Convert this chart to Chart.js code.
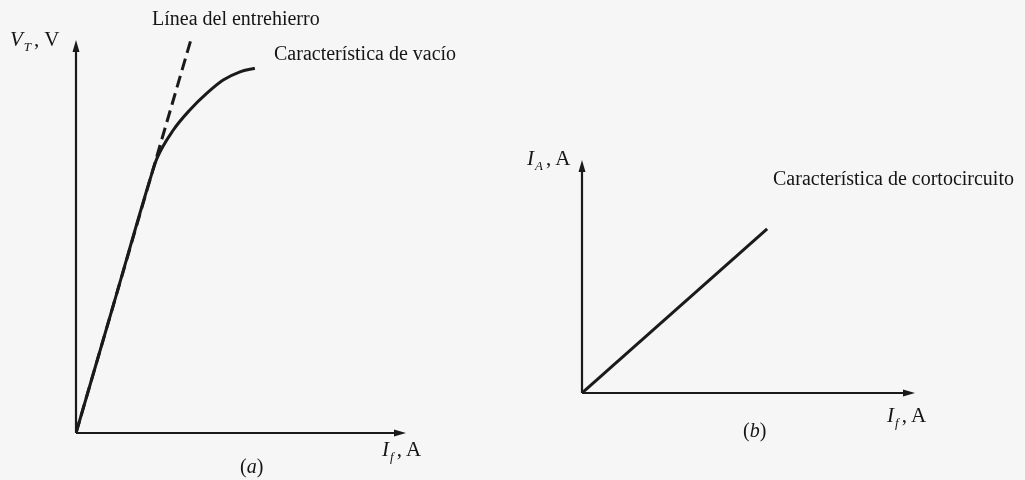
<!DOCTYPE html>
<html lang="es">
<head>
<meta charset="utf-8">
<title>Características de vacío y de cortocircuito</title>
<script src="https://cdn.jsdelivr.net/npm/chart.js@4"></script>
<style>
  html, body { margin: 0; padding: 0; background: #f6f6f6; }
  #fig {
    position: relative; width: 1025px; height: 480px; overflow: hidden;
    font-family: "Liberation Serif", "Times New Roman", serif; color: #151515;
  }
  .panel { position: absolute; top: 0; height: 480px; }
  .lbl { position: absolute; white-space: nowrap; font-size: 20px; line-height: 1; }
  .axis { font-size: 21px; }
  .lbl sub { font-size: 13px; vertical-align: -5px; line-height: 0; margin: 0 3px 0 1px; }
</style>
</head>
<body>
<div id="fig">
  <div class="panel" style="left:0;width:512px;"><canvas id="chartA"></canvas></div>
  <div class="panel" style="left:512px;width:513px;"><canvas id="chartB"></canvas></div>

  <!-- (a) vacío -->
  <div class="lbl" style="left:152px;top:8px;">Línea del entrehierro</div>
  <div class="lbl" style="left:274px;top:43px;">Característica de vacío</div>
  <div class="lbl axis" style="left:10px;top:29px;"><i>V</i><sub><i>T</i></sub>, V</div>
  <div class="lbl axis" style="left:382px;top:439px;"><i>I</i><sub><i>f</i></sub>, A</div>
  <div class="lbl" style="left:240px;top:456px;">(<i>a</i>)</div>

  <!-- (b) cortocircuito -->
  <div class="lbl axis" style="left:527px;top:148px;"><i>I</i><sub><i>A</i></sub>, A</div>
  <div class="lbl" style="left:773px;top:168px;">Característica de cortocircuito</div>
  <div class="lbl axis" style="left:887px;top:405px;"><i>I</i><sub><i>f</i></sub>, A</div>
  <div class="lbl" style="left:743px;top:420px;">(<i>b</i>)</div>
</div>

<script>
// Curva de vacío: corriente de campo I_f frente a tensión en bornes V_T (unidades relativas)
const vacioIf = [0, 1.2, 2.25, 2.45, 2.95, 3.45, 3.96, 4.46, 4.97, 5.42];
const vacioVt = [0, 3.45, 6.47, 6.98, 7.71, 8.22, 8.64, 8.98, 9.19, 9.28];

// Línea del entrehierro (prolongación de la parte recta)
const entrehierroIf = [0, 3.48];
const entrehierroVt = [0, 10.0];

// Característica de cortocircuito: I_f frente a I_A
const cortoIf = [0, 5.56];
const cortoIa = [0, 7.04];

// Rango de los ejes (sin marcas ni números)
const ejeMax = 10;

const INK = '#1a1a1a';

function toPoints(xs, ys) {
  return xs.map((x, i) => ({ x, y: ys[i] }));
}

// Ejes con flecha, trazados sobre las escalas de la gráfica
const axesArrows = {
  id: 'axesArrows',
  beforeDatasetsDraw(chart) {
    const { ctx, scales: { x, y } } = chart;
    const x0 = x.getPixelForValue(0);
    const y0 = y.getPixelForValue(0);
    const xEnd = x.getPixelForValue(x.max);
    const yEnd = y.getPixelForValue(y.max);
    ctx.save();
    ctx.strokeStyle = INK;
    ctx.fillStyle = INK;
    ctx.lineWidth = 2.2;
    ctx.beginPath();
    ctx.moveTo(x0, y0);
    ctx.lineTo(x0, yEnd + 8);
    ctx.moveTo(x0, y0);
    ctx.lineTo(xEnd - 8, y0);
    ctx.stroke();
    // punta vertical
    ctx.beginPath();
    ctx.moveTo(x0, yEnd);
    ctx.lineTo(x0 - 3.5, yEnd + 12);
    ctx.lineTo(x0 + 3.5, yEnd + 12);
    ctx.closePath();
    ctx.fill();
    // punta horizontal
    ctx.beginPath();
    ctx.moveTo(xEnd, y0);
    ctx.lineTo(xEnd - 12, y0 - 3.5);
    ctx.lineTo(xEnd - 12, y0 + 3.5);
    ctx.closePath();
    ctx.fill();
    ctx.restore();
  }
};

function baseOptions(padding) {
  return {
    responsive: true,
    maintainAspectRatio: false,
    animation: false,
    events: [],
    layout: { padding },
    plugins: { legend: { display: false }, tooltip: { enabled: false } },
    elements: { point: { radius: 0 } },
    scales: {
      x: { type: 'linear', min: 0, max: ejeMax, display: false },
      y: { type: 'linear', min: 0, max: ejeMax, display: false }
    }
  };
}

new Chart(document.getElementById('chartA'), {
  type: 'line',
  data: {
    datasets: [
      {
        label: 'Característica de vacío',
        data: toPoints(vacioIf, vacioVt),
        borderColor: INK,
        borderWidth: 3,
        cubicInterpolationMode: 'monotone',
        fill: false,
        order: 0
      },
      {
        label: 'Línea del entrehierro',
        data: toPoints(entrehierroIf, entrehierroVt),
        borderColor: INK,
        borderWidth: 3,
        borderDash: [12, 6],
        fill: false,
        order: 1
      }
    ]
  },
  options: baseOptions({ left: 76, right: 106, top: 40, bottom: 47 }),
  plugins: [axesArrows]
});

new Chart(document.getElementById('chartB'), {
  type: 'line',
  data: {
    datasets: [
      {
        label: 'Característica de cortocircuito',
        data: toPoints(cortoIf, cortoIa),
        borderColor: INK,
        borderWidth: 3,
        fill: false
      }
    ]
  },
  options: baseOptions({ left: 70, right: 110, top: 160, bottom: 87 }),
  plugins: [axesArrows]
});
</script>
</body>
</html>
